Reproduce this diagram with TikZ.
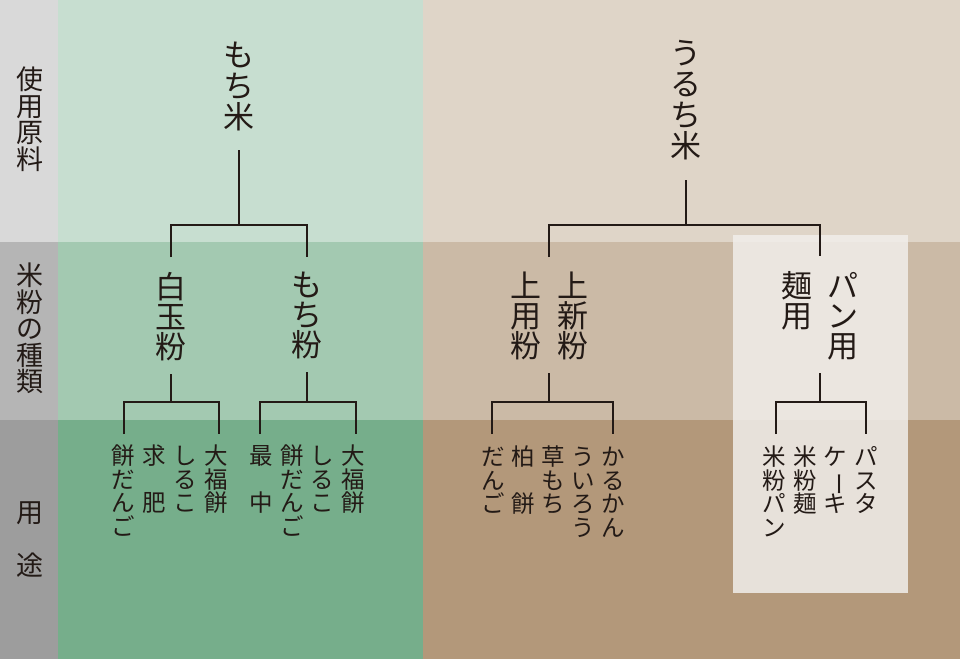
\documentclass[tikz,border=0pt]{standalone}
\usepackage{fontspec}
\newfontfamily\cjk{Noto Sans CJK JP}
\usepackage{tikz}
\usepackage{xcolor}
\definecolor{sumi}{RGB}{35,26,22}
\definecolor{hai1}{RGB}{217,217,217}
\definecolor{hai2}{RGB}{181,181,181}
\definecolor{hai3}{RGB}{157,157,157}
\definecolor{midori1}{RGB}{199,222,208}
\definecolor{midori2}{RGB}{163,201,177}
\definecolor{midori3}{RGB}{118,174,139}
\definecolor{cha1}{RGB}{223,213,200}
\definecolor{cha2}{RGB}{203,186,166}
\definecolor{cha3}{RGB}{179,152,122}
\definecolor{shiro}{RGB}{241,238,235}
% vertical text: one character per row
\newcommand{\tate}[1]{\vtop{\lineskiplimit=-100pt\lineskip=0pt\halign{\hfil##\hfil\cr#1\crcr}}}
\newcommand{\bou}{\rotatebox[origin=c]{-90}{ー}}

\begin{document}
\begin{tikzpicture}[x=1pt,y=-1pt,
    branch/.style={draw=sumi,line width=2.2pt},
    oya/.style={anchor=north,inner sep=0pt,text=sumi,font=\cjk\fontsize{31}{31}\selectfont},
    ko/.style={anchor=north,inner sep=0pt,text=sumi,font=\cjk\fontsize{31}{30}\selectfont},
    yoto/.style={anchor=north,inner sep=0pt,text=sumi,font=\cjk\fontsize{23.5}{23.5}\selectfont},
    midashi/.style={anchor=north,inner sep=0pt,text=sumi,font=\cjk\fontsize{27}{26.5}\selectfont}]
  \useasboundingbox (0,0) rectangle (960,659);
  % Bands
  \fill[hai1] (0,0) rectangle (58,242);
  \fill[hai2] (0,242) rectangle (58,420);
  \fill[hai3] (0,420) rectangle (58,659);
  \fill[midori1] (58,0) rectangle (423,242);
  \fill[midori2] (58,242) rectangle (423,420);
  \fill[midori3] (58,420) rectangle (423,659);
  \fill[cha1] (423,0) rectangle (960,242);
  \fill[cha2] (423,242) rectangle (960,420);
  \fill[cha3] (423,420) rectangle (960,659);
  % Bread and noodle box
  \fill[shiro,opacity=.85] (733,235) rectangle (908,593);
  % Row labels
  \node[midashi] (genryo) at (30,67) {\tate{使\cr 用\cr 原\cr 料}};
  \node[midashi] (shurui) at (30,263) {\tate{米\cr 粉\cr の\cr 種\cr 類}};
  \node[midashi] (yoto) at (30,501) {\tate{用\cr 　\cr 途}};
  % Raw rice
  \node[oya] (mochigome) at (239,42) {\tate{も\cr ち\cr 米}};
  \node[oya] (uruchimai) at (686,40) {\tate{う\cr る\cr ち\cr 米}};
  % Rice flours
  \node[ko] (shiratama) at (171,272) {\tate{白\cr 玉\cr 粉}};
  \node[ko] (mochiko) at (307,272) {\tate{も\cr ち\cr 粉}};
  \node[ko] (joyo) at (549,272) {\tate{上\cr 用\cr 粉}\hspace{16pt}\tate{上\cr 新\cr 粉}};
  \node[ko] (pan) at (820,271) {\tate{麺\cr 用}\hspace{15pt}\tate{パ\cr ン\cr 用}};
  % Uses
  \node[yoto] (shiratama-yoto) at (170,445)
    {\tate{餅\cr だ\cr ん\cr ご}\hspace{7.5pt}\tate{求\cr 　\cr 肥}\hspace{7.5pt}\tate{し\cr る\cr こ}\hspace{7.5pt}\tate{大\cr 福\cr 餅}};
  \node[yoto] (mochiko-yoto) at (307,445)
    {\tate{最\cr 　\cr 中}\hspace{7pt}\tate{餅\cr だ\cr ん\cr ご}\hspace{7pt}\tate{し\cr る\cr こ}\hspace{7pt}\tate{大\cr 福\cr 餅}};
  \node[yoto] (joyo-yoto) at (553,446)
    {\tate{だ\cr ん\cr ご}\hspace{6.5pt}\tate{柏\cr 　\cr 餅}\hspace{6.5pt}\tate{草\cr も\cr ち}\hspace{6.5pt}\tate{う\cr い\cr ろ\cr う}\hspace{6.5pt}\tate{か\cr る\cr か\cr ん}};
  \node[yoto] (pan-yoto) at (820,446)
    {\tate{米\cr 粉\cr パ\cr ン}\hspace{7pt}\tate{米\cr 粉\cr 麺}\hspace{7pt}\tate{ケ\cr \bou\cr キ}\hspace{7pt}\tate{パ\cr ス\cr タ}};
  % Junctions
  \coordinate (mochigome-j) at (mochigome.south |- 0,225);
  \coordinate (uruchimai-j) at (uruchimai.south |- 0,225);
  \coordinate (shiratama-j) at (shiratama.south |- 0,402);
  \coordinate (mochiko-j) at (mochiko.south |- 0,402);
  \coordinate (joyo-j) at (joyo.south |- 0,402);
  \coordinate (pan-j) at (pan.south |- 0,402);
  % Branches
  \draw[branch] ([yshift=-19pt]mochigome.south) -- (mochigome-j);
  \draw[branch] ([yshift=15pt]shiratama.north) |- (mochigome-j) -| ([yshift=15pt]mochiko.north);
  \draw[branch] ([yshift=-20pt]uruchimai.south) -- (uruchimai-j);
  \draw[branch] ([yshift=15pt]joyo.north) |- (uruchimai-j) -| ([yshift=15pt]pan.north);
  \draw[branch] ([yshift=-13pt]shiratama.south) -- (shiratama-j);
  \draw[branch] ([xshift=-46pt,yshift=11pt]shiratama-yoto.north) |- (shiratama-j) -| ([xshift=49pt,yshift=11pt]shiratama-yoto.north);
  \draw[branch] ([yshift=-13pt]mochiko.south) -- (mochiko-j);
  \draw[branch] ([xshift=-47pt,yshift=11pt]mochiko-yoto.north) |- (mochiko-j) -| ([xshift=49pt,yshift=11pt]mochiko-yoto.north);
  \draw[branch] ([yshift=-13pt]joyo.south) -- (joyo-j);
  \draw[branch] ([xshift=-61pt,yshift=12pt]joyo-yoto.north) |- (joyo-j) -| ([xshift=60pt,yshift=12pt]joyo-yoto.north);
  \draw[branch] ([yshift=-13pt]pan.south) -- (pan-j);
  \draw[branch] ([xshift=-44pt,yshift=12pt]pan-yoto.north) |- (pan-j) -| ([xshift=46pt,yshift=12pt]pan-yoto.north);
\end{tikzpicture}
\end{document}
